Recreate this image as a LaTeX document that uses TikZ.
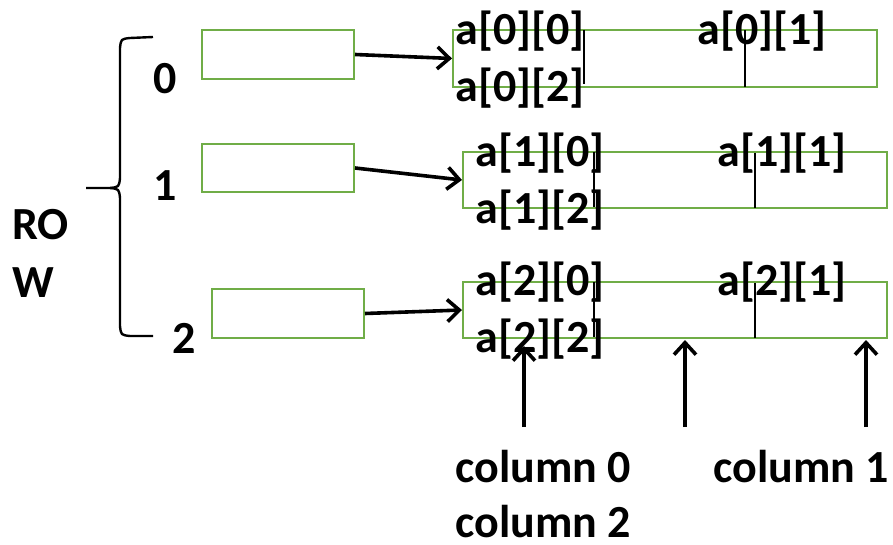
\documentclass[tikz,border=0pt]{standalone}
\usepackage{fontspec}
\setmainfont{Carlito}
\usetikzlibrary{arrows.meta}
\begin{document}
\begin{tikzpicture}[x=0.5pt,y=-0.5pt,
  ptrbox/.style={draw=boxgreen,line width=1pt,inner sep=0pt,minimum width=76pt},
  rowbox/.style={draw=boxgreen,line width=1pt,inner sep=0pt,minimum width=212pt},
  lbl/.style={anchor=base west,inner sep=0pt,font=\fontsize{23}{27}\selectfont\bfseries},
  ptr/.style={line width=1.8pt,-{Straight Barb[length=6pt,width=11pt,line width=1.8pt]}},
  divider/.style={line width=1.1pt},
  brace/.style={line width=1.2pt}]
\definecolor{boxgreen}{RGB}{112,173,71}
\useasboundingbox (0,0) rectangle (893,545);

% pointer array boxes
\node[ptrbox,minimum height=24.5pt] (p0) at (278,54.5) {};
\node[ptrbox,minimum height=24pt] (p1) at (278,168) {};
\node[ptrbox,minimum height=24.5pt] (p2) at (288,313.5) {};

% row storage boxes
\node[rowbox,minimum height=28.5pt] (r0) at (665,58.5) {};
\node[rowbox,minimum height=28pt] (r1) at (675,180) {};
\node[rowbox,minimum height=28pt] (r2) at (675,310) {};

% cell dividers
\draw[divider] (584,30) -- (584,84);
\draw[divider] (745,30) -- (745,87);
\draw[divider] (594,152) -- (594,207);
\draw[divider] (755,153) -- (755,208);
\draw[divider] (594,282) -- (594,337);
\draw[divider] (755,283) -- (755,338);

% pointers into the rows
\draw[ptr] (p0.east) -- (r0.west);
\draw[ptr] (p1.east) -- (r1.west);
\draw[ptr] (p2.east) -- (r2.west);

% brace grouping the row indices
\draw[brace] (153,37) -- (130,38) .. controls (121,39) .. (120,48) -- (120,178)
  .. controls (119,187) .. (110,188) -- (86,188);
\draw[brace] (110,188) .. controls (119,189) .. (120,198) -- (120,326)
  .. controls (121,335) .. (130,336) -- (153,336);

% row labels
\node[lbl] (i0) at (153,94) {0};
\node[lbl] (i1) at (153,200) {1};
\node[lbl] (i2) at (172,353) {2};
\node[lbl] (rw1) at (12,240) {RO};
\node[lbl] (rw2) at (12,297) {W};

% cell labels
\node[lbl] (c00) at (455,45) {a[0][0]};
\node[lbl] (c01) at (697,45) {a[0][1]};
\node[lbl] (c02) at (455,102) {a[0][2]};
\node[lbl] (c10) at (475,167) {a[1][0]};
\node[lbl] (c11) at (717,167) {a[1][1]};
\node[lbl] (c12) at (475,223) {a[1][2]};
\node[lbl] (c20) at (475,295) {a[2][0]};
\node[lbl] (c21) at (717,295) {a[2][1]};
\node[lbl] (c22) at (475,352) {a[2][2]};

% column markers
\coordinate (k0) at (524,427);
\coordinate (k0t) at (524,346);
\coordinate (k1) at (685,427);
\coordinate (k1t) at (685,340);
\coordinate (k2) at (866,427);
\coordinate (k2t) at (866,340);
\draw[ptr] (k0) -- (k0t);
\draw[ptr] (k1) -- (k1t);
\draw[ptr] (k2) -- (k2t);

\node[lbl] (col0) at (455,482) {column 0};
\node[lbl] (col1) at (713,482) {column 1};
\node[lbl] (col2) at (455,537) {column 2};
\end{tikzpicture}
\end{document}
